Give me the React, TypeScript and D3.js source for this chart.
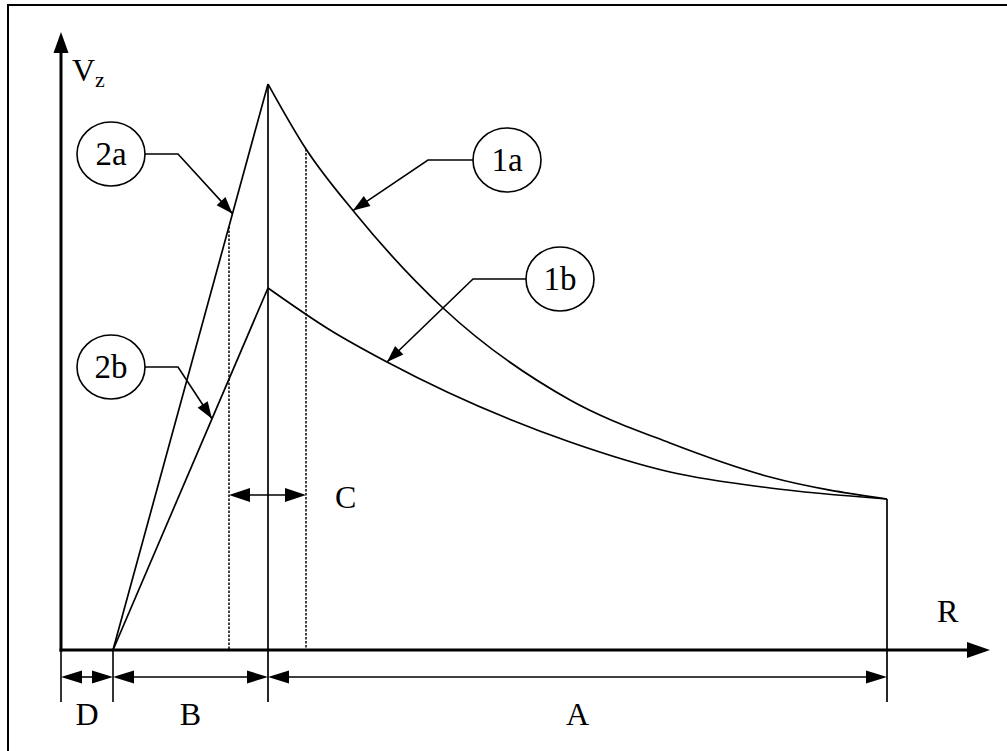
import React, { useEffect, useRef } from "react";
import * as d3 from "d3";

const W = 1007;
const H = 751;

// Curve data (R, Vz) in chart units
const curve1aR = [20.7, 24.5, 29.4, 38.2, 50.9, 60.9, 70.9, 82.6];
const curve1aV = [56.6, 50.1, 43.7, 34.2, 25.0, 20.7, 17.3, 15.1];
const curve1bR = [20.7, 26.9, 32.6, 50.9, 60.9, 70.9, 82.6];
const curve1bV = [36.2, 32.0, 28.8, 20.8, 17.8, 16.2, 15.1];
const line2R = [5.2, 20.7];
const line2aV = [0, 56.6];
const line2bV = [0, 36.2];

// Dimension markers
const dimLabels = ["D", "B", "A"];
const dimStart = [0, 5.2, 20.7];
const dimEnd = [5.2, 20.7, 82.6];
const cStart = 16.8;
const cEnd = 24.5;
const cLevel = 15.5;

// Callouts
const calloutLabels = ["2a", "2b", "1a", "1b"];
const calloutSeries = ["2a", "2b", "1a", "1b"];
const calloutCenterR = [5.0, 5.0, 44.6, 49.9];
const calloutCenterV = [49.6, 28.3, 49.0, 37.1];
const calloutElbowR = [11.7, 11.7, 36.7, 41.2];
const calloutTargetR = [17.15, 15.1, 29.2, 32.6];

export default function App() {
  const ref = useRef<SVGSVGElement>(null);

  useEffect(() => {
    const svg = d3.select(ref.current);
    svg.selectAll("*").remove();

    const x = d3.scaleLinear().domain([0, 92.9]).range([61, 990]);
    const y = d3.scaleLinear().domain([0, 61.8]).range([650, 32]);
    const font = "'Liberation Serif', 'Times New Roman', serif";

    svg.append("rect").attr("width", W).attr("height", H).attr("fill", "#fff");
    // frame
    svg
      .append("rect")
      .attr("x", 8)
      .attr("y", 5)
      .attr("width", 1012)
      .attr("height", 770)
      .attr("fill", "none")
      .attr("stroke", "#000")
      .attr("stroke-width", 2);

    const head = (
      tip: [number, number],
      from: [number, number],
      len: number,
      hw: number
    ) => {
      const dx = tip[0] - from[0];
      const dy = tip[1] - from[1];
      const d = Math.hypot(dx, dy);
      const ux = dx / d;
      const uy = dy / d;
      const bx = tip[0] - ux * len;
      const by = tip[1] - uy * len;
      const nx = -uy;
      const ny = ux;
      svg
        .append("polygon")
        .attr(
          "points",
          `${tip[0]},${tip[1]} ${bx + nx * hw},${by + ny * hw} ${bx - nx * hw},${by - ny * hw}`
        )
        .attr("fill", "#000");
    };

    const line = d3
      .line<[number, number]>()
      .x((d) => x(d[0]))
      .y((d) => y(d[1]))
      .curve(d3.curveMonotoneX);

    const seriesPts: Record<string, [number, number][]> = {
      "1a": curve1aR.map((r, i) => [r, curve1aV[i]]),
      "1b": curve1bR.map((r, i) => [r, curve1bV[i]]),
      "2a": line2R.map((r, i) => [r, line2aV[i]]),
      "2b": line2R.map((r, i) => [r, line2bV[i]]),
    };
    const paths: Record<string, SVGPathElement> = {};
    Object.keys(seriesPts).forEach((k) => {
      const p = svg
        .append("path")
        .attr("d", line(seriesPts[k]))
        .attr("fill", "none")
        .attr("stroke", "#000")
        .attr("stroke-width", 1.7);
      paths[k] = p.node() as SVGPathElement;
    });

    const pointAt = (k: string, px: number): [number, number] => {
      const node = paths[k];
      const total = node.getTotalLength();
      let lo = 0;
      let hi = total;
      for (let i = 0; i < 40; i++) {
        const mid = (lo + hi) / 2;
        const pt = node.getPointAtLength(mid);
        if (pt.x < px) lo = mid;
        else hi = mid;
      }
      const pt = node.getPointAtLength((lo + hi) / 2);
      return [pt.x, pt.y];
    };

    // vertical lines at peak and end
    const peakR = curve1aR[0];
    const endR = curve1aR[curve1aR.length - 1];
    const extBottom = 702;
    svg
      .append("line")
      .attr("x1", x(peakR))
      .attr("x2", x(peakR))
      .attr("y1", y(curve1aV[0]))
      .attr("y2", extBottom)
      .attr("stroke", "#000")
      .attr("stroke-width", 1.7);
    svg
      .append("line")
      .attr("x1", x(endR))
      .attr("x2", x(endR))
      .attr("y1", y(curve1aV[curve1aV.length - 1]))
      .attr("y2", extBottom)
      .attr("stroke", "#000")
      .attr("stroke-width", 1.7);
    // extension lines at 0 and D
    [0, 5.2].forEach((r) => {
      svg
        .append("line")
        .attr("x1", x(r))
        .attr("x2", x(r))
        .attr("y1", y(0))
        .attr("y2", extBottom)
        .attr("stroke", "#000")
        .attr("stroke-width", 1.6);
    });

    // dotted lines
    const leftTop = pointAt("2a", x(cStart));
    const rightTop = pointAt("1a", x(cEnd));
    [
      [x(cStart), leftTop[1]],
      [x(cEnd), rightTop[1]],
    ].forEach(([px, py]) => {
      svg
        .append("line")
        .attr("x1", px)
        .attr("x2", px)
        .attr("y1", py)
        .attr("y2", y(0))
        .attr("stroke", "#000")
        .attr("stroke-width", 1.5)
        .attr("stroke-dasharray", "2.5,1.5");
    });

    // C arrow
    const cy = y(cLevel);
    svg
      .append("line")
      .attr("x1", x(cStart) + 15)
      .attr("x2", x(cEnd) - 15)
      .attr("y1", cy)
      .attr("y2", cy)
      .attr("stroke", "#000")
      .attr("stroke-width", 1.6);
    head([x(cStart), cy], [x(cEnd), cy], 21, 7);
    head([x(cEnd), cy], [x(cStart), cy], 21, 7);
    svg
      .append("text")
      .attr("x", x(cEnd) + 29)
      .attr("y", cy + 13)
      .attr("font-family", font)
      .attr("font-size", 32)
      .text("C");

    // Axes
    svg
      .append("line")
      .attr("x1", x(0))
      .attr("x2", x(0))
      .attr("y1", y(0) + 1.5)
      .attr("y2", 32 + 15)
      .attr("stroke", "#000")
      .attr("stroke-width", 3);
    head([x(0), 32], [x(0), 100], 21, 7.5);
    svg
      .append("line")
      .attr("x1", x(0) - 1.5)
      .attr("x2", 990 - 15)
      .attr("y1", y(0))
      .attr("y2", y(0))
      .attr("stroke", "#000")
      .attr("stroke-width", 3);
    head([990, y(0)], [900, y(0)], 23, 8);

    const vz = svg
      .append("text")
      .attr("x", 72)
      .attr("y", 81)
      .attr("font-family", font)
      .attr("font-size", 32)
      .text("V");
    vz.append("tspan").attr("dx", 0).attr("dy", 6).attr("font-size", 22).text("z");
    svg
      .append("text")
      .attr("x", 937)
      .attr("y", 622)
      .attr("font-family", font)
      .attr("font-size", 32)
      .text("R");

    // dimension arrows
    const dimY = 677;
    dimLabels.forEach((lab, i) => {
      const a = x(dimStart[i]);
      const b = x(dimEnd[i]);
      svg
        .append("line")
        .attr("x1", a + 10)
        .attr("x2", b - 10)
        .attr("y1", dimY)
        .attr("y2", dimY)
        .attr("stroke", "#000")
        .attr("stroke-width", 1.6);
      head([a, dimY], [b, dimY], 21, 6.5);
      head([b, dimY], [a, dimY], 21, 6.5);
      svg
        .append("text")
        .attr("x", (a + b) / 2)
        .attr("y", 725)
        .attr("text-anchor", "middle")
        .attr("font-family", font)
        .attr("font-size", 32)
        .text(lab);
    });

    // callouts
    calloutLabels.forEach((lab, i) => {
      const cx = x(calloutCenterR[i]);
      const ccy = y(calloutCenterV[i]);
      const rx = 34;
      const ry = 32;
      const ex = x(calloutElbowR[i]);
      const tip = pointAt(calloutSeries[i], x(calloutTargetR[i]));
      const side = ex > cx ? 1 : -1;
      svg
        .append("polyline")
        .attr("points", `${cx + side * rx},${ccy} ${ex},${ccy} ${tip[0]},${tip[1]}`)
        .attr("fill", "none")
        .attr("stroke", "#000")
        .attr("stroke-width", 1.6);
      head(tip, [ex, ccy], 17, 6);
      svg
        .append("ellipse")
        .attr("cx", cx)
        .attr("cy", ccy)
        .attr("rx", rx)
        .attr("ry", ry)
        .attr("fill", "#fff")
        .attr("stroke", "#000")
        .attr("stroke-width", 1.6);
      svg
        .append("text")
        .attr("x", cx)
        .attr("y", ccy + 11)
        .attr("text-anchor", "middle")
        .attr("font-family", font)
        .attr("font-size", 33)
        .text(lab);
    });
  }, []);

  return (
    <svg
      ref={ref}
      width={W}
      height={H}
      style={{ position: "absolute", left: 0, top: 0, background: "#fff" }}
    />
  );
}
